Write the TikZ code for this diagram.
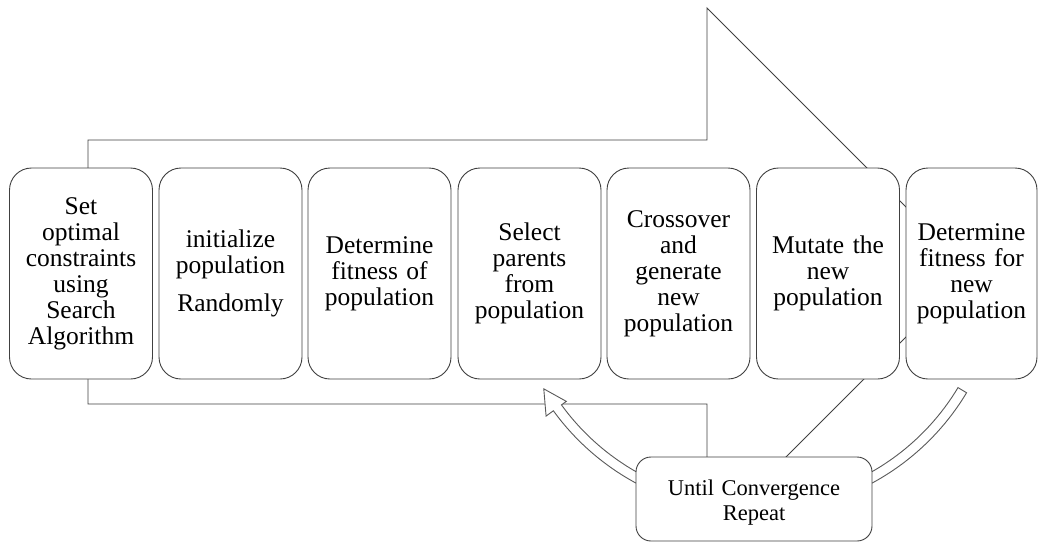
\documentclass[tikz,border=0pt]{standalone}
\usepackage{fontspec}
\setmainfont{Liberation Serif}
\tikzset{
  x=1pt, y=-1pt,
  stepbox/.style={draw=black!75, fill=white, line width=0.9pt, rounded corners=22pt,
    minimum width=143pt, minimum height=211pt, inner sep=0pt, text width=138pt,
    align=center, font=\fontsize{25.5}{26}\selectfont},
  loopbox/.style={draw=black!75, fill=white, line width=0.9pt, rounded corners=15pt,
    minimum width=236pt, minimum height=84pt, inner sep=0pt, text width=230pt,
    align=center, font=\fontsize{22.5}{25}\selectfont},
  bigarrow/.style={draw=black!75, line width=0.9pt, fill=white},
  circarrow/.style={draw=black!65, line width=0.9pt, fill=white, line join=miter},
}
\begin{document}
\begin{tikzpicture}
\useasboundingbox (0,0) rectangle (1039,542);
% big block arrow (background)
\coordinate (a1) at (88,140);
\coordinate (a2) at (707,140);
\coordinate (a3) at (707,8);
\coordinate (tip) at (971,272);
\coordinate (a5) at (707,536);
\coordinate (a6) at (707,404);
\coordinate (a7) at (88,404);
\draw[bigarrow] (a1) -- (a2) -- (a3) -- (tip) -- (a5) -- (a6) -- (a7) -- cycle;
% circular arrow
\begin{scope}[shift={(754,265)}]
\draw[circarrow] (31:248) arc[start angle=31, end angle=144, radius=248]
  -- (144:257) -- (149.5:244) -- (144:232) -- (144:238)
  arc[start angle=144, end angle=31, radius=238] -- cycle;
\end{scope}
% step boxes
\node[stepbox] (b1) at (81,273.5) {Set\\optimal\\constraints\\using\\Search\\Algorithm};
\node[stepbox] (b2) at (230.5,273.5) {initialize\\population\\[12pt]Randomly};
\node[stepbox] (b3) at (379.5,273.5) {Determine\\fitness of\\population};
\node[stepbox] (b4) at (529.5,273.5) {Select\\parents\\from\\population};
\node[stepbox] (b5) at (678.5,273.5) {Crossover\\and\\generate\\new\\population};
\node[stepbox] (b6) at (828,273.5) {Mutate the\\new\\population};
\node[stepbox, minimum width=131pt, text width=128pt] (b7) at (971.5,273.5) {Determine\\fitness for\\new\\population};
% loop box
\node[loopbox] (loop) at (754,499) {\rule{0pt}{22pt}Until Convergence\\Repeat};
\end{tikzpicture}
\end{document}
